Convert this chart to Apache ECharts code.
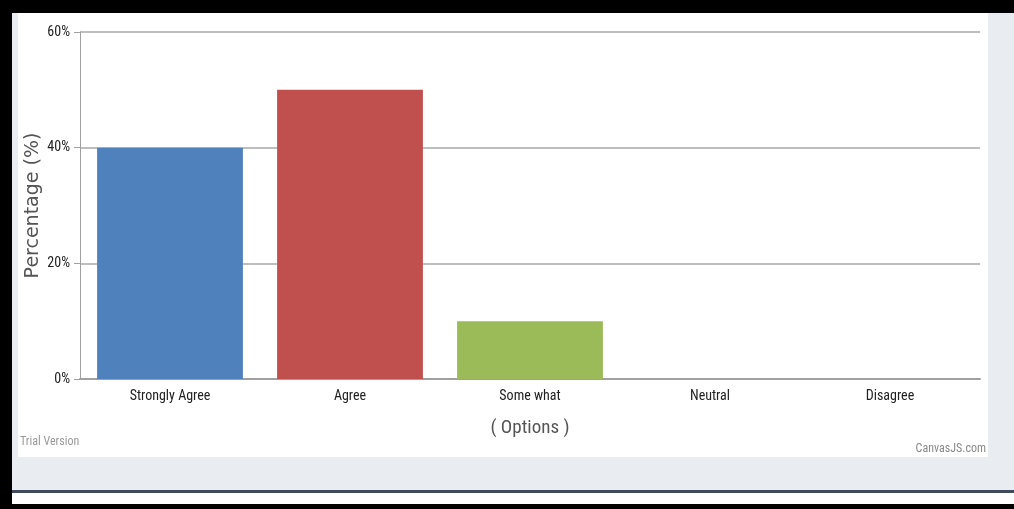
<!DOCTYPE html>
<html>
<head>
<meta charset="utf-8">
<script src="https://cdn.jsdelivr.net/npm/echarts@6/dist/echarts.min.js"></script>
<style>html,body{margin:0;padding:0;background:#fff;}#c{width:1014px;height:509px;}</style>
</head>
<body>
<div id="c"></div>
<script>
const categories = ['Strongly Agree', 'Agree', 'Some what', 'Neutral', 'Disagree'];
const values = [40, 50, 10, 0, 0];
const barColors = ['#4f81bc', '#c0504e', '#9bbb58', '#23bfaa', '#8064a1'];
const yTicks = [0, 20, 40, 60];

const narrow = '"Liberation Sans Narrow", "Arial Narrow", "Roboto Condensed", sans-serif';
const chart = echarts.init(document.getElementById('c'));
chart.setOption({
  backgroundColor: '#ffffff',
  animation: false,
  grid: { left: 80, right: 34, top: 32, bottom: 130, containLabel: false },
  xAxis: {
    type: 'category',
    data: categories,
    name: '( Options )',
    nameLocation: 'middle',
    nameGap: 40,
    nameTextStyle: { fontSize: 19, color: '#555', fontFamily: narrow },
    axisLine: { lineStyle: { color: '#a0a0a0', width: 2 } },
    axisTick: { alignWithLabel: true, length: 5, lineStyle: { color: '#a0a0a0' } },
    axisLabel: { color: '#222', fontSize: 14, margin: 10, fontFamily: narrow }
  },
  yAxis: {
    type: 'value',
    min: yTicks[0],
    max: yTicks[yTicks.length - 1],
    interval: 20,
    name: 'Percentage (%)',
    nameLocation: 'middle',
    nameRotate: 90,
    nameGap: 37,
    nameMoveOverlap: false,
    nameTextStyle: { fontSize: 19, color: '#555', fontFamily: '"DejaVu Sans", sans-serif' },
    axisLine: { show: true, lineStyle: { color: '#a0a0a0', width: 1 } },
    axisTick: { show: true, length: 6, lineStyle: { color: '#a0a0a0' } },
    axisLabel: { color: '#222', fontSize: 14, margin: 10, fontFamily: narrow, formatter: '{value}%' },
    splitLine: { lineStyle: { color: '#a8a8a8', width: 1.5 } }
  },
  series: [{
    type: 'bar',
    barWidth: '81%',
    data: values.map((v, i) => ({ value: v, itemStyle: { color: barColors[i] } }))
  }],
  graphic: [
    { type: 'rect', shape: { x: 0, y: 0, width: 1014, height: 13 }, style: { fill: '#000' }, silent: true },
    { type: 'rect', shape: { x: 0, y: 0, width: 12, height: 509 }, style: { fill: '#000' }, silent: true },
    { type: 'rect', shape: { x: 12, y: 13, width: 6, height: 444 }, style: { fill: '#e9ecf1' }, silent: true },
    { type: 'rect', shape: { x: 988, y: 13, width: 26, height: 444 }, style: { fill: '#e9ecf1' }, silent: true },
    { type: 'rect', shape: { x: 12, y: 457, width: 1002, height: 33 }, style: { fill: '#e9ecf1' }, silent: true },
    { type: 'rect', shape: { x: 12, y: 490, width: 1002, height: 3 }, style: { fill: '#3f4a5a' }, silent: true },
    { type: 'rect', shape: { x: 12, y: 493, width: 1002, height: 11 }, style: { fill: '#ffffff' }, silent: true },
    { type: 'rect', shape: { x: 0, y: 504, width: 1014, height: 5 }, style: { fill: '#000' }, silent: true },
    { type: 'text', left: 20, top: 436, style: { text: 'Trial Version', fill: '#999', fontSize: 12, fontFamily: narrow } },
    { type: 'text', right: 28, top: 443, style: { text: 'CanvasJS.com', fill: '#888', fontSize: 12, fontFamily: narrow } }
  ]
});
</script>
</body>
</html>
